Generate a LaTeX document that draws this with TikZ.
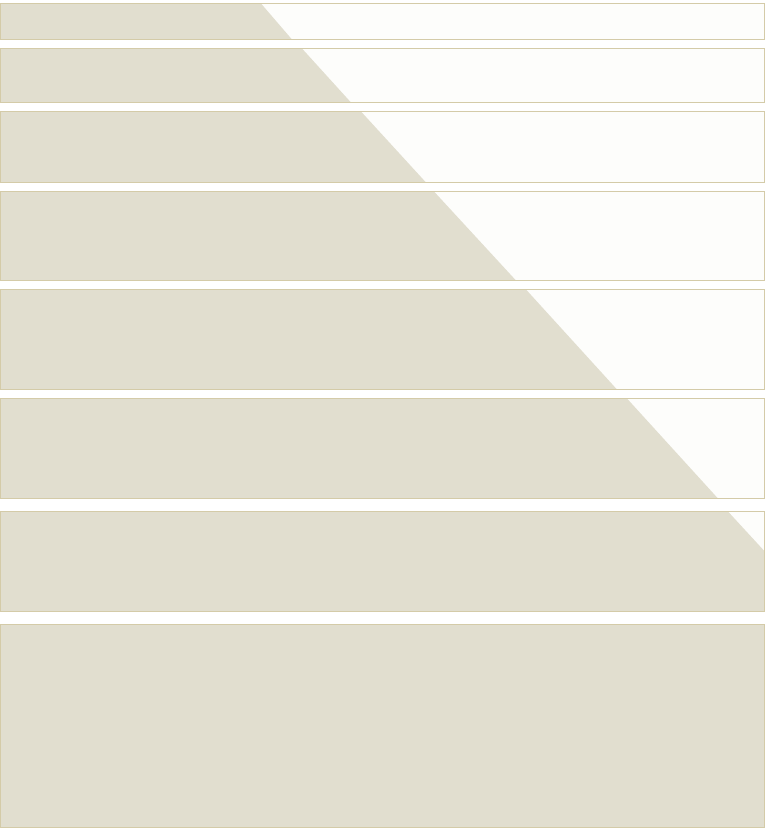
\documentclass[tikz,border=0pt]{standalone}
\usepackage{tikz}
\definecolor{beige}{RGB}{225,222,207}
\definecolor{paper}{RGB}{253,253,251}
\definecolor{rim}{RGB}{212,203,168}
\tikzset{rowbox/.style={draw=rim,line width=0.9pt}}
\newcommand{\band}[4]{% top, bottom, xtop, xbottom
  \begin{scope}
    \clip (0.5,#1) rectangle (764.5,#2);
    \fill[paper] (0.5,#1) rectangle (764.5,#2);
    \fill[beige] (0,#1) -- (#3,#1) -- (#4,#2) -- (0,#2) -- cycle;
  \end{scope}
  \draw[rowbox] (0.5,#1) rectangle (764.5,#2);
}
\begin{document}
\begin{tikzpicture}[x=1pt,y=-1pt]
\useasboundingbox (0,0) rectangle (777,839);
\fill[white] (0,0) rectangle (777,839);
\band{3.5}{39.5}{261}{292}
\band{48.5}{102.5}{302}{351}
\band{111.5}{182.5}{361}{426}
\band{191.5}{280.5}{434}{516}
\band{289.5}{389.5}{526}{617}
\band{398.5}{498.5}{627}{718}
\band{511.5}{611.5}{728}{820}
\band{624.5}{827.5}{900}{900}
\end{tikzpicture}
\end{document}
